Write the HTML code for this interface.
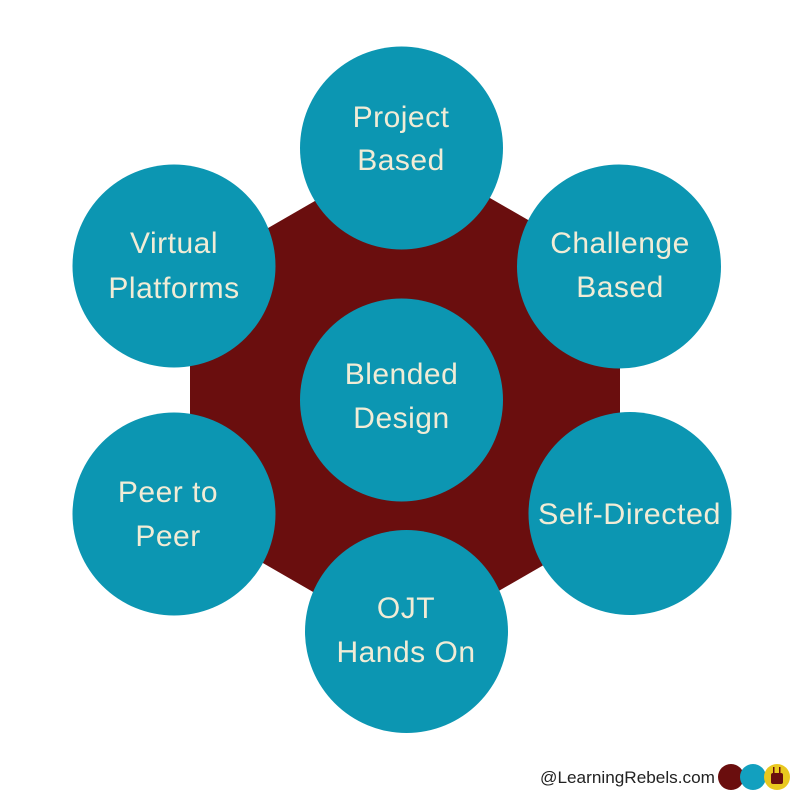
<!DOCTYPE html>
<html>
<head>
<meta charset="utf-8">
<style>
  html, body { margin:0; padding:0; background:#ffffff; }
  svg { display:block; }
  .t { font-family: "Liberation Sans", Arial, sans-serif; font-size:30px; fill:#f1ecd6; text-anchor:middle; letter-spacing:0.5px; }
  .w { font-family: "Liberation Sans", Arial, sans-serif; font-size:17px; fill:#222222; }
</style>
</head>
<body>
<svg width="800" height="800" viewBox="0 0 800 800" xmlns="http://www.w3.org/2000/svg">
  <rect width="800" height="800" fill="#ffffff"/>
  <!-- hexagon -->
  <polygon points="405,149 620,273 620,521 405,645 190,521 190,273" fill="#6a0e0e"/>

  <!-- circles -->
  <g fill="#0c96b2">
    <circle cx="401.5" cy="148" r="101.5"/>
    <circle cx="174" cy="266" r="101.5"/>
    <circle cx="619" cy="266.5" r="102"/>
    <circle cx="174" cy="514" r="101.5"/>
    <circle cx="630" cy="513.5" r="101.5"/>
    <circle cx="406.5" cy="631.5" r="101.5"/>
    <circle cx="401.5" cy="400" r="101.5"/>
  </g>

  <!-- labels -->
  <text class="t" x="401" y="127">Project</text>
  <text class="t" x="401" y="170">Based</text>

  <text class="t" x="174" y="253">Virtual</text>
  <text class="t" x="174" y="298">Platforms</text>

  <text class="t" x="620" y="253">Challenge</text>
  <text class="t" x="620" y="297">Based</text>

  <text class="t" x="401.5" y="384">Blended</text>
  <text class="t" x="401.5" y="428">Design</text>

  <text class="t" x="168" y="502">Peer to</text>
  <text class="t" x="168" y="546">Peer</text>

  <text class="t" x="629.5" y="524" textLength="183" lengthAdjust="spacingAndGlyphs">Self-Directed</text>

  <text class="t" x="406" y="618">OJT</text>
  <text class="t" x="406" y="662">Hands On</text>

  <!-- watermark -->
  <text class="w" x="540" y="783" textLength="175" lengthAdjust="spacingAndGlyphs">@LearningRebels.com</text>
  <circle cx="731" cy="777" r="13" fill="#6a0e0e"/>
  <circle cx="753" cy="777" r="13" fill="#12a0bf"/>
  <circle cx="777" cy="777" r="13" fill="#e9c81f"/>
  <rect x="771" y="773" width="12" height="11" rx="2" fill="#6a0e0e"/>
  <rect x="773" y="767" width="1.5" height="7" fill="#6a0e0e"/>
  <rect x="779" y="767" width="1.5" height="7" fill="#6a0e0e"/>
</svg>
</body>
</html>
